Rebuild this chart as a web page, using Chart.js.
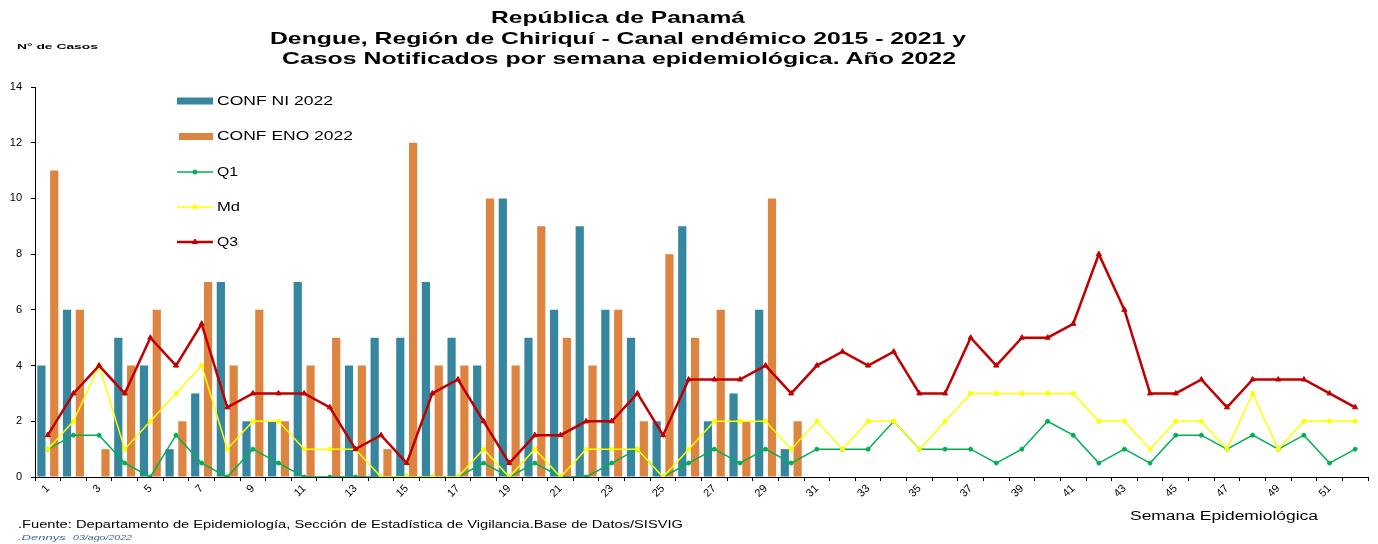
<!DOCTYPE html>
<html>
<head>
<meta charset="utf-8">
<script src="https://cdn.jsdelivr.net/npm/chart.js@4/dist/chart.umd.min.js"></script>
<style>
  body { margin: 0; background: #fff; }
  #wrap { position: relative; width: 1378px; height: 544px; font-family: Arial, "Liberation Sans", sans-serif; overflow: hidden; }
  #wrap canvas { position: absolute; left: 0; top: 0; }
  .t { position: absolute; white-space: nowrap; transform-origin: 0 50%; color: #000; }
</style>
</head>
<body>
<div id="wrap">
  <canvas id="c" width="1378" height="544" style="width:1378px;height:544px"></canvas>
  <div class="t" data-cx="618" data-w="254" data-cy="17" data-fs="17" style="font-weight:bold">República de Panamá</div>
  <div class="t" data-cx="618" data-w="696" data-cy="38" data-fs="17" style="font-weight:bold">Dengue, Región de Chiriquí - Canal endémico 2015 - 2021 y</div>
  <div class="t" data-cx="619" data-w="674" data-cy="58" data-fs="17" style="font-weight:bold">Casos Notificados por semana epidemiológica. Año 2022</div>
  <div class="t" data-x="17" data-w="81" data-cy="47" data-fs="8" style="font-weight:bold">N° de Casos</div>
  <div class="t" data-x="1130" data-w="188" data-cy="516" data-fs="12">Semana Epidemiológica</div>
  <div class="t" data-x="18" data-w="665" data-cy="525" data-fs="10">.Fuente: Departamento de Epidemiología, Sección de Estadística de Vigilancia.Base de Datos/SISVIG</div>
  <div class="t" data-x="18" data-w="114" data-cy="538" data-fs="8" style="font-style:italic;color:#45679A">.Dennys&nbsp;&nbsp;<span style="font-size:6.5px">03/ago/2022</span></div>
</div>
<script>
// ---- Data ----
const weeks = ['1','2','3','4','5','6','7','8','9','10','11','12','13','14','15','16','17','18','19','20',
  '21','22','23','24','25','26','27','28','29','30','31','32','33','34','35','36','37','38','39','40',
  '41','42','43','44','45','46','47','48','49','50','51','52'];
const confNI2022 = [4,6,0,5,4,1,3,7,2,2,7,0,4,5,5,7,5,4,10,5,6,9,6,5,2,9,2,3,6,1];
const confENO2022 = [11,6,1,4,6,2,7,4,6,2,4,5,4,1,12,4,4,10,4,9,5,4,6,2,8,5,6,2,10,2];
const q1 = [1,1.5,1.5,0.5,0,1.5,0.5,0,1,0.5,0,0,0,0,0,0,0,0.5,0,0.5,0,0,0.5,1,0,0.5,1,0.5,1,0.5,
  1,1,1,2,1,1,1,0.5,1,2,1.5,0.5,1,0.5,1.5,1.5,1,1.5,1,1.5,0.5,1];
const md = [1,2,4,1,2,3,4,1,2,2,1,1,1,0,0,0,0,1,0,1,0,1,1,1,0,1,2,2,2,1,
  2,1,2,2,1,2,3,3,3,3,3,2,2,1,2,2,1,3,1,2,2,2];
const q3 = [1.5,3,4,3,5,4,5.5,2.5,3,3,3,2.5,1,1.5,0.5,3,3.5,2,0.5,1.5,1.5,2,2,3,1.5,3.5,3.5,3.5,4,3,
  4,4.5,4,4.5,3,3,5,4,5,5,5.5,8,6,3,3,3.5,2.5,3.5,3.5,3.5,3,2.5];
const yTicks = [0,2,4,6,8,10,12,14];

// ---- Fit HTML texts ----
document.querySelectorAll('#wrap .t').forEach(el => {
  const fs = +el.dataset.fs;
  el.style.fontSize = fs + 'px';
  el.style.lineHeight = fs + 'px';
  el.style.top = (+el.dataset.cy - fs / 2) + 'px';
  const nat = el.getBoundingClientRect().width;
  const w = +el.dataset.w;
  const sx = w / nat;
  const x = el.dataset.cx !== undefined ? (+el.dataset.cx - w / 2) : +el.dataset.x;
  el.style.left = x + 'px';
  el.style.transform = 'scaleX(' + sx + ')';
});

// ---- Custom legend plugin (inside plot area) ----
const legendItems = [
  { ds: 0, kind: 'bar', y: 101, tw: 116 },
  { ds: 1, kind: 'bar', y: 136.5, tw: 136 },
  { ds: 2, kind: 'line', y: 172, tw: 21 },
  { ds: 3, kind: 'line', y: 207, tw: 23 },
  { ds: 4, kind: 'line', y: 242, tw: 21 }
];
const innerLegend = {
  id: 'innerLegend',
  afterDatasetsDraw(chart) {
    const ctx = chart.ctx;
    ctx.save();
    legendItems.forEach(it => {
      const ds = chart.data.datasets[it.ds];
      if (it.kind === 'bar') {
        ctx.fillStyle = ds.backgroundColor;
        ctx.fillRect(it.ds === 0 ? 177 : 179, it.y - 3.5, it.ds === 0 ? 36 : 34, 7);
      } else {
        ctx.strokeStyle = ds.borderColor;
        ctx.fillStyle = ds.backgroundColor;
        ctx.lineWidth = ds.borderWidth;
        ctx.beginPath(); ctx.moveTo(177, it.y); ctx.lineTo(213, it.y); ctx.stroke();
        ctx.lineWidth = 1;
        Chart.helpers.drawPoint(ctx, {
          pointStyle: ds.pointStyle, radius: ds.pointRadius, rotation: 0, borderWidth: 1
        }, 195, it.y);
      }
      ctx.font = '12px Arial, "Liberation Sans", sans-serif';
      ctx.fillStyle = '#000';
      ctx.textBaseline = 'middle';
      ctx.textAlign = 'left';
      const nat = ctx.measureText(ds.label).width;
      ctx.save();
      ctx.translate(217, it.y + 0.5);
      ctx.scale(it.tw / nat, 1);
      ctx.fillText(ds.label, 0, 0);
      ctx.restore();
    });
    ctx.restore();
  }
};

const ctx = document.getElementById('c').getContext('2d');
new Chart(ctx, {
  type: 'bar',
  data: {
    labels: weeks,
    datasets: [
      { label: 'CONF NI 2022', data: confNI2022, backgroundColor: '#35869E', order: 3,
        barPercentage: 0.64, categoryPercentage: 1 },
      { label: 'CONF ENO 2022', data: confENO2022, backgroundColor: '#DD8441', order: 4,
        barPercentage: 0.64, categoryPercentage: 1 },
      { type: 'line', label: 'Q1', data: q1, borderColor: '#00B050', backgroundColor: '#00B050',
        borderWidth: 1.5, pointStyle: 'circle', pointRadius: 2, pointBorderWidth: 1, tension: 0, order: 2 },
      { type: 'line', label: 'Md', data: md, borderColor: '#FFFF00', backgroundColor: '#FFFF00',
        borderWidth: 1.5, pointStyle: 'rect', pointRadius: 2.5, pointBorderWidth: 1, tension: 0, order: 1 },
      { type: 'line', label: 'Q3', data: q3, borderColor: '#C00000', backgroundColor: '#C00000',
        borderWidth: 2.5, pointStyle: 'triangle', pointRadius: 3, pointBorderWidth: 1, tension: 0, order: 0 }
    ]
  },
  options: {
    responsive: false,
    animation: false,
    events: [],
    layout: { padding: { top: 87, right: 10, bottom: 37, left: 0 } },
    plugins: { legend: { display: false }, tooltip: { enabled: false }, title: { display: false } },
    scales: {
      x: {
        offset: true,
        grid: { offset: true, drawOnChartArea: false, color: '#000', tickLength: 4, tickWidth: 1 },
        border: { color: '#000', width: 1 },
        ticks: {
          autoSkip: false, maxRotation: 45, minRotation: 45, padding: 1,
          color: '#000', font: { size: 11, family: 'Arial, "Liberation Sans", sans-serif' },
          callback: (v, i) => (i % 2 === 0 ? weeks[i] : '')
        },
        afterFit: s => { s.height = 30; }
      },
      y: {
        min: 0, max: 14,
        afterBuildTicks: s => { s.ticks = yTicks.map(v => ({ value: v })); },
        grid: { drawOnChartArea: false, color: '#000', tickLength: 4 },
        border: { color: '#000', width: 1 },
        ticks: { padding: 9, color: '#000', font: { size: 11, family: 'Arial, "Liberation Sans", sans-serif' } },
        afterFit: s => { s.width = 35; }
      }
    }
  },
  plugins: [innerLegend]
});
</script>
</body>
</html>
